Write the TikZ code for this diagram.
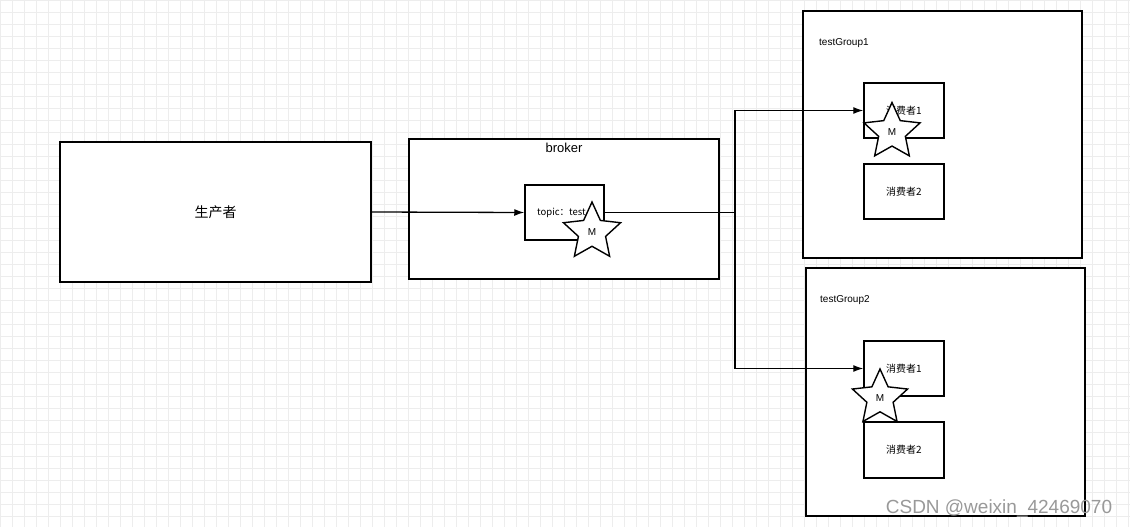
\documentclass[tikz,border=0pt]{standalone}
\usepackage{fontspec}
\setmainfont{Liberation Sans}
\newfontfamily\cjk{Noto Sans CJK SC}
\usepackage{tikz}
\usetikzlibrary{arrows.meta, positioning, shapes.geometric}

\tikzset{
  box/.style={draw, line width=1.5pt, fill=white, minimum width=#1},
  box/.default=80pt,
  msg/.style={star, star points=5, star point ratio=2.1, draw, line width=1.4pt,
    fill=white, inner sep=0pt, minimum size=#1, font=\fontsize{10}{12}\selectfont},
  gridline/.style={draw=black!7, line width=0.5pt}
}

\begin{document}
\begin{tikzpicture}[x=1pt, y=-1pt, >={Latex[length=10pt,width=7pt]}]
\useasboundingbox (0,0) rectangle (1130,527);
\fill[white] (0,0) rectangle (1130,527);
\draw[gridline, step=12pt] (0,0) grid (1130,527);

\node[box=311pt, minimum height=140pt, font=\cjk\fontsize{14}{16}\selectfont] (prod) at (215.5,212) {生产者};
\node[box=310pt, minimum height=140pt] (broker) at (564,209) {};
\node[font=\fontsize{13}{15}\selectfont] (brokertxt) at (564,148) {broker};
\node[box=79pt, minimum height=55pt] (topic) at (564.5,212.5) {};
\node[anchor=west, inner sep=0pt, font=\cjk\fontsize{9.5}{11}\selectfont] (topictxt) at (537,213) {topic：test};

\node[box=279pt, minimum height=247pt] (g1) at (942.5,134.5) {};
\node[anchor=west, inner sep=0pt, font=\fontsize{10}{12}\selectfont] (g1txt) at (819,43) {testGroup1};
\node[box, minimum height=55pt, font=\cjk\fontsize{10}{12}\selectfont] (c11) at (904,110.5) {消费者1};
\node[box, minimum height=55pt, font=\cjk\fontsize{10}{12}\selectfont] (c12) at (904,191.5) {消费者2};

\node[box=279pt, minimum height=248pt] (g2) at (945.5,392) {};
\node[anchor=west, inner sep=0pt, font=\fontsize{10}{12}\selectfont] (g2txt) at (820,300) {testGroup2};
\node[box, minimum height=55pt, font=\cjk\fontsize{10}{12}\selectfont] (c21) at (904,368.5) {消费者1};
\node[box, minimum height=56pt, font=\cjk\fontsize{10}{12}\selectfont] (c22) at (904,450) {消费者2};

\coordinate (split) at (735,212.5);
\begin{scope}[line width=1.3pt]
\draw[->] (prod.east) -- (topic.west);
\draw (topic.east) -- (split);
\draw[->] (split) |- (c11.west);
\draw[->] (split) |- (c21.west);
\end{scope}

\node[msg=60pt] (m0) at (592,232) {M};
\node[msg=59pt] (m1) at (892,132) {M};
\node[msg=58pt] (m2) at (880,398) {M};

\node[text=black!40, font=\fontsize{19}{21}\selectfont] (mark) at (999,508) {CSDN @weixin\_42469070};
\end{tikzpicture}
\end{document}
